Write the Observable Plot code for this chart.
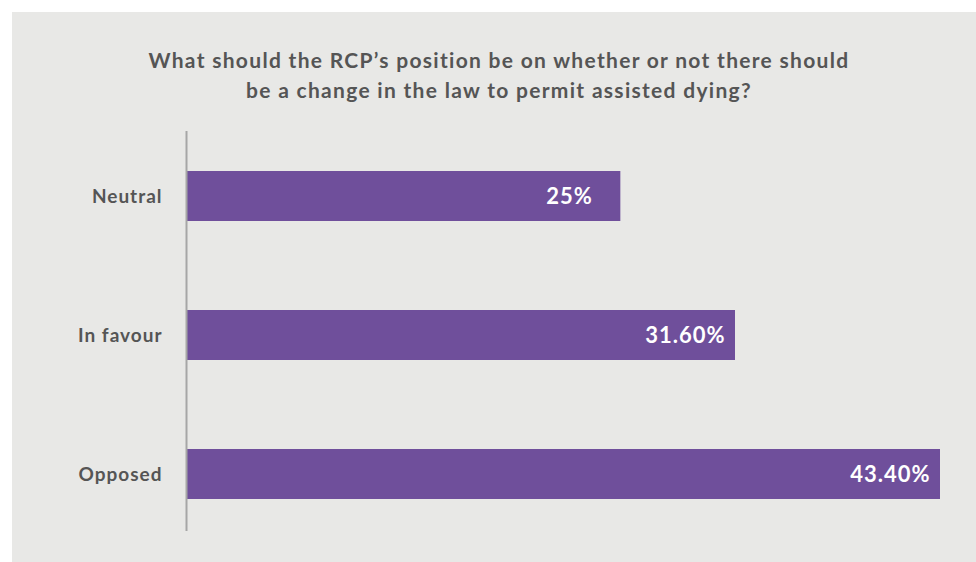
<!DOCTYPE html>
<html>
<head>
<meta charset="utf-8">
<script src="https://cdn.jsdelivr.net/npm/d3@7"></script>
<script src="https://cdn.jsdelivr.net/npm/@observablehq/plot@0.6"></script>
<style>
  html, body { margin: 0; padding: 0; background: #ffffff; width: 976px; height: 562px; overflow: hidden; }
  #panel { position: absolute; left: 12px; top: 12px; width: 964px; height: 550px; background: #e8e8e6; font-family: Lato, "Open Sans", sans-serif; }
  #title { position: absolute; left: 0; top: 33px; width: 976px; margin-left: -1px; text-align: center; font-size: 21px; line-height: 30px; font-weight: 700; color: #555555; letter-spacing: 1.3px; }
  #chart { position: absolute; left: 0; top: 98px; }
  #chart svg text { letter-spacing: 1px; }
</style>
</head>
<body>
<div id="panel">
  <div id="title">What should the RCP’s position be on whether or not there should<br>be a change in the law to permit assisted dying?</div>
  <div id="chart"></div>
</div>
<script>
const categories = ["Neutral", "In favour", "Opposed"];
const values = [25, 31.6, 43.4];
const valueLabels = ["25%", "31.60%", "43.40%"];

const data = categories.map((c, i) => ({category: c, value: values[i], label: valueLabels[i]}));

const chart = Plot.plot({
  width: 964,
  height: 450,
  marginLeft: 174,
  marginRight: 36,
  marginTop: 21,
  marginBottom: 29,
  style: {background: "transparent", color: "#555555", fontFamily: "Lato, 'Open Sans', sans-serif"},
  x: {domain: [0, 43.4], axis: null},
  y: {domain: categories, range: [16.5, 433.5], paddingInner: 0.64, paddingOuter: 0.32, label: null},
  marks: [
    Plot.barX(data, {x: "value", y: "category", fill: "#6f4f9b"}),
    Plot.ruleX([0], {stroke: "#a6a6a6", strokeWidth: 2}),
    Plot.axisY({tickSize: 0, tickPadding: 24, fontSize: 19, fontWeight: "bold", label: null}),
    Plot.text(data.filter(d => d.value === 25), {x: "value", y: "category", text: "label", dx: -28, textAnchor: "end", fill: "white", fontSize: 22, fontWeight: "bold"}),
    Plot.text(data.filter(d => d.value !== 25), {x: "value", y: "category", text: "label", dx: -10, textAnchor: "end", fill: "white", fontSize: 22, fontWeight: "bold"})
  ]
});
document.getElementById("chart").appendChild(chart);
</script>
</body>
</html>
